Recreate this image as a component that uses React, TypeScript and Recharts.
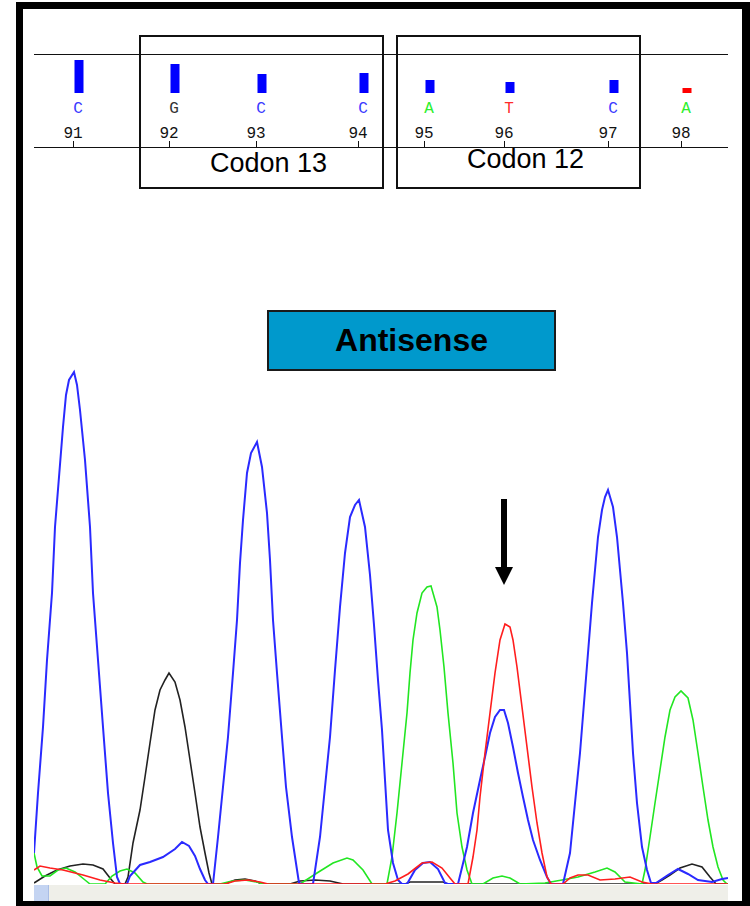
import React from 'react'
import {
  ComposedChart, LineChart, Line, Bar, Cell, XAxis, YAxis, ReferenceLine, ReferenceArea,
} from 'recharts'

// base positions, the scan under each tick, called base and quality value
const positions = [91, 92, 93, 94, 95, 96, 97, 98]
const positionScans = [39, 135, 222, 324, 390, 470, 574, 647]
const baseCalls = ['C', 'G', 'C', 'C', 'A', 'T', 'C', 'A']
const qualities = [33, 29, 19, 20, 13, 11, 13, 5]

const codons = [
  { name: 'Codon 13', from: 106, to: 349 },
  { name: 'Codon 12', from: 363, to: 606 },
]

// chromatogram traces as [scan, signal]
const traceC = [
  [0, 31], [4, 91], [9, 157], [13, 224], [18, 291], [21, 357], [25, 407], [29, 457], [32, 489], [35, 504],
  [40, 512], [43, 499], [46, 474], [51, 424], [56, 357], [59, 291], [64, 224], [69, 157], [74, 91], [79, 41],
  [83, 7], [86, 0], [93, 0], [96, 8], [106, 19], [116, 22], [129, 27], [141, 35], [148, 42], [155, 38],
  [161, 28], [166, 15], [171, 4], [174, 0], [179, 0], [184, 47], [189, 97], [194, 147], [199, 211], [203, 264],
  [206, 321], [209, 364], [213, 411], [217, 431], [223, 442], [228, 417], [233, 371], [236, 324], [239, 264],
  [243, 211], [248, 147], [252, 97], [258, 47], [265, 1], [268, 0], [279, 0], [286, 47], [291, 97], [296, 147],
  [301, 214], [306, 277], [311, 331], [316, 367], [321, 379], [325, 384], [331, 357], [336, 309], [340, 259],
  [344, 204], [348, 154], [351, 104], [354, 54], [359, 21], [364, 4], [368, 0], [373, 0], [381, 14], [389, 21],
  [396, 22], [404, 15], [411, 1], [414, 0], [424, 0], [433, 37], [439, 71], [446, 104], [451, 127], [456, 151],
  [461, 167], [466, 174], [470, 174], [474, 161], [479, 137], [484, 111], [489, 87], [494, 64], [499, 44],
  [506, 24], [513, 7], [517, 0], [529, 0], [536, 31], [541, 81], [546, 131], [550, 181], [554, 231], [558, 281],
  [561, 314], [564, 347], [568, 374], [571, 387], [574, 394], [579, 377], [583, 347], [586, 314], [589, 281],
  [593, 231], [596, 181], [599, 131], [603, 81], [608, 37], [613, 14], [617, 1], [622, 1], [634, 9], [644, 15],
  [654, 10], [664, 4], [678, 2], [688, 5], [694, 6],
]
const traceA = [
  [0, 31], [3, 17], [8, 8], [16, 8], [24, 14], [32, 16], [41, 12], [51, 4], [56, 0], [71, 0], [78, 8], [86, 13],
  [93, 15], [101, 11], [109, 2], [113, 0], [186, 0], [198, 3], [211, 4], [223, 2], [229, 0], [266, 0], [283, 11],
  [299, 21], [313, 26], [319, 24], [329, 14], [338, 0], [353, 0], [358, 27], [363, 71], [368, 121], [373, 171],
  [376, 211], [379, 244], [383, 271], [388, 291], [393, 297], [397, 298], [403, 277], [406, 254], [410, 217],
  [414, 171], [419, 121], [423, 71], [428, 37], [433, 14], [438, 0], [449, 0], [459, 6], [468, 8], [476, 6],
  [486, 0], [511, 1], [528, 4], [544, 7], [561, 12], [573, 16], [581, 12], [591, 2], [608, 0], [611, 14],
  [616, 47], [621, 81], [626, 114], [631, 147], [636, 174], [641, 187], [647, 193], [654, 186], [659, 164],
  [664, 131], [669, 97], [674, 64], [679, 37], [684, 17], [689, 4], [693, 0],
]
const traceG = [
  [0, 1], [11, 8], [23, 14], [36, 18], [49, 20], [59, 19], [69, 15], [76, 6], [81, 0], [91, 0], [94, 7],
  [99, 41], [106, 74], [111, 107], [116, 141], [121, 174], [126, 194], [131, 204], [135, 211], [141, 202],
  [146, 184], [151, 157], [156, 124], [161, 91], [166, 57], [171, 31], [175, 11], [178, 0], [191, 0], [201, 4],
  [211, 5], [221, 3], [228, 0], [256, 0], [266, 3], [281, 4], [296, 3], [309, 0], [371, 0], [376, 2], [409, 2],
  [414, 0], [621, 0], [628, 4], [636, 9], [646, 16], [658, 20], [668, 17], [676, 7], [682, 0], [694, 0],
]
const traceT = [
  [0, 14], [6, 18], [16, 16], [29, 14], [49, 9], [66, 4], [81, 1], [91, 0], [191, 0], [201, 3], [214, 4],
  [226, 2], [234, 0], [351, 0], [361, 3], [374, 10], [388, 21], [398, 22], [408, 16], [416, 6], [421, 0],
  [434, 0], [439, 27], [443, 54], [446, 87], [451, 131], [456, 171], [461, 211], [466, 244], [471, 260],
  [476, 257], [479, 244], [483, 217], [488, 177], [493, 137], [498, 97], [503, 61], [508, 31], [513, 7],
  [517, 0], [529, 0], [536, 6], [544, 9], [554, 9], [566, 4], [581, 5], [596, 7], [608, 2], [618, 0], [694, 0],
]

const BASE_COLORS: Record<string, string> = {
  A: '#22e622', C: '#2a2aff', G: '#222222', T: '#ff1e1e',
}
const LETTER_COLORS: Record<string, string> = {
  A: '#2cf02c', C: '#3a3aff', G: '#333333', T: '#ff2a2a',
}

const traces = [
  { base: 'G', points: traceG },
  { base: 'A', points: traceA },
  { base: 'C', points: traceC },
  { base: 'T', points: traceT },
]

const qualityData = positionScans.map((scan, i) => ({ scan, q: qualities[i] }))

function PositionTick(props: any) {
  const { x, y, index } = props
  const base = baseCalls[index]
  return (
    <g>
      <line x1={x} x2={x} y1={y - 6} y2={y} stroke="#111" shapeRendering="crispEdges" />
      <text x={x} y={y - 9} textAnchor="middle" fontSize={16} fontFamily="Liberation Mono" fill="#111">
        {positions[index]}
      </text>
      <text x={x + 5} y={y - 34} textAnchor="middle" fontSize={16} fontFamily="Liberation Mono" fill={LETTER_COLORS[base]}>
        {base}
      </text>
    </g>
  )
}

const codonLabel = (text: string) => (p: any) => {
  const vb = p.viewBox
  return (
    <text
      x={vb.x + vb.width / 2 + 7}
      y={vb.y + vb.height - (text === 'Codon 13' ? 16 : 20)}
      textAnchor="middle"
      fontSize={27}
      fontFamily="Liberation Sans, Arial"
      fill="#000"
    >
      {text}
    </text>
  )
}

function Arrow(p: any) {
  const { x1, y1, y2 } = p
  const head = 18
  return (
    <g>
      <rect x={x1 - 3} y={y1} width={6} height={y2 - y1 - head + 1} fill="#000" />
      <polygon points={`${x1 - 9},${y2 - head} ${x1 + 9},${y2 - head} ${x1},${y2}`} fill="#000" />
    </g>
  )
}

export default function App() {
  return (
    <div style={{ position: 'absolute', left: 0, top: 0, width: 750, height: 906, overflow: 'hidden', background: '#fff' }}>
      <div style={{
        position: 'absolute', left: 16, top: 2, width: 734, height: 904, boxSizing: 'border-box',
        borderStyle: 'solid', borderColor: '#000', borderWidth: '7px 8px 5px 7px',
      }} />

      <div style={{ position: 'absolute', left: 0, top: 0 }}>
        <ComposedChart width={750} height={200} data={qualityData} margin={{ top: 54, right: 22, bottom: 33, left: 34 }}>
          <XAxis
            dataKey="scan" type="number" domain={[0, 694]} ticks={positionScans} interval={0}
            tickSize={0} tickMargin={0} height={20} axisLine={{ stroke: '#111', shapeRendering: 'crispEdges' }} tickLine={false}
            tick={<PositionTick />} allowDataOverflow
          />
          <YAxis hide domain={[-54, 39]} allowDataOverflow />
          <ReferenceLine y={39} stroke="#111" shapeRendering="crispEdges" />
          {codons.map((c) => (
            <ReferenceArea
              key={c.name} x1={c.from} x2={c.to} y1={-95} y2={57} ifOverflow="visible"
              fill="none" fillOpacity={0} stroke="#111" strokeWidth={2} label={codonLabel(c.name)}
            />
          ))}
          <Bar
            dataKey="q" barSize={9} isAnimationActive={false}
            shape={(p: any) => <rect x={p.x + p.width / 2 + 1} y={p.y} width={p.width} height={p.height} fill={p.fill} />}
          >
            {qualityData.map((d, i) => (
              <Cell key={i} fill={d.q < 8 ? '#ff0000' : '#0000ff'} />
            ))}
          </Bar>
        </ComposedChart>
      </div>

      <div style={{
        position: 'absolute', left: 267, top: 310, width: 289, height: 61, boxSizing: 'border-box',
        background: '#0099cc', border: '2px solid #1a1a1a', display: 'flex', alignItems: 'center',
        justifyContent: 'center', fontFamily: 'Liberation Sans, Arial', fontWeight: 'bold', fontSize: 32, color: '#000',
      }}>
        Antisense
      </div>

      <div style={{ position: 'absolute', left: 0, top: 354 }}>
        <LineChart width={750} height={531} margin={{ top: 10, right: 22, bottom: 1, left: 34 }}>
          <XAxis dataKey="scan" type="number" domain={[0, 694]} hide allowDataOverflow />
          <YAxis hide domain={[0, 520]} allowDataOverflow />
          {traces.map((t) => (
            <Line
              key={t.base}
              data={t.points.map(([scan, signal]) => ({ scan, signal }))}
              dataKey="signal" type="linear" stroke={BASE_COLORS[t.base]}
              strokeWidth={t.base === 'C' ? 2 : 1.6} dot={false} activeDot={false} isAnimationActive={false}
            />
          ))}
          <ReferenceLine segment={[{ x: 470, y: 385 }, { x: 470, y: 299 }]} shape={Arrow} ifOverflow="visible" />
        </LineChart>
      </div>

      <div style={{ position: 'absolute', left: 34, top: 885, width: 694, height: 16, background: '#efefe9' }} />
      <div style={{ position: 'absolute', left: 34, top: 885, width: 14, height: 16, background: '#c4d4f2', borderRight: '1px solid #a9bde6' }} />
    </div>
  )
}
